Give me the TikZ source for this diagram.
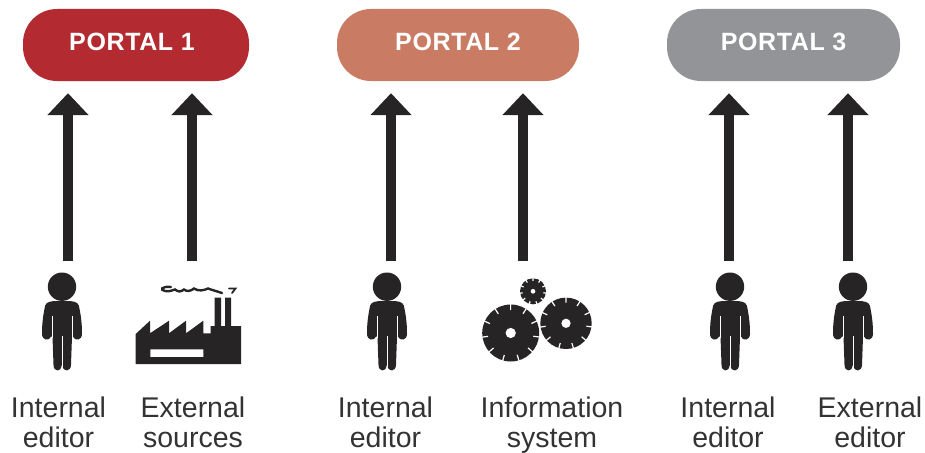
\documentclass[tikz,border=0pt]{standalone}
\usepackage{fontspec}
\setmainfont{Liberation Sans}
\newfontfamily\portalfont[LetterSpace=2.5]{Liberation Sans}
\usetikzlibrary{arrows.meta}
\definecolor{ink}{HTML}{262425}
\definecolor{labelc}{HTML}{333333}
\definecolor{pa}{HTML}{B32A30}
\definecolor{pb}{HTML}{C97B63}
\definecolor{pc}{HTML}{929497}
\tikzset{
  x=1pt,y=-1pt,
  portal/.style={rounded corners=34pt,minimum height=72pt,inner sep=0pt,text=white,
    text height=18pt,text depth=6pt,
    font=\fontsize{25}{28}\portalfont\bfseries},
  flow/.style={draw=ink,line width=9.5pt,-{Triangle[width=40pt,length=22pt,fill=ink]},shorten >=12pt},
  lab/.style={align=center,text=labelc,inner sep=0pt,font=\fontsize{28.5}{30}\selectfont},
  person/.pic={
    \fill[ink] (0,0) circle[radius=14.2];
    \fill[ink] (-9,14.5) .. controls (-15,15) and (-17,17) .. (-17.5,22)
      .. controls (-19.5,32) and (-20,40) .. (-20,47)
      .. controls (-20,54) and (-13,54.5) .. (-11,50)
      -- (-9.5,50) -- (-8.5,78)
      .. controls (-8.5,85.5) and (-1,85.5) .. (-0.5,79)
      -- (0.5,79)
      .. controls (1,85.5) and (9,85.5) .. (9,78)
      -- (10,50) -- (11,50)
      .. controls (13,54.5) and (20,54) .. (20,47)
      .. controls (20,40) and (19.5,32) .. (17.5,22)
      .. controls (17,17) and (15,15) .. (9,14.5) -- cycle;
    \draw[white,line width=.5pt] (-9.5,29) -- (-9.5,51) (10,29) -- (10,51);
    \draw[white,line width=.8pt] (0,49) -- (0,80);
  },
  sawblade/.pic={
    \fill[ink] (0,0) circle[radius=\bladeR];
    \foreach \k in {1,...,11}{
      \draw[white,line width=1.2pt] ({\k*32.73+8}:\bladeR+1) -- ({\k*32.73+8}:0.8*\bladeR);
    }
    \fill[white] (0,0) circle[radius=0.18*\bladeR];
  }
}
\begin{document}
\begin{tikzpicture}
\useasboundingbox (0,0) rectangle (925,452);
% portals
\node[portal,fill=pa,minimum width=226pt] (p1) at (136,45) {\hspace*{-8pt}PORTAL 1};
\node[portal,fill=pb,minimum width=242pt] (p2) at (458,45) {PORTAL 2};
\node[portal,fill=pc,minimum width=233pt] (p3) at (783.5,45) {PORTAL 3};
% arrow starts
\coordinate (s1) at (68,261);
\coordinate (s2) at (192,261);
\coordinate (s3) at (391,261);
\coordinate (s4) at (523,261);
\coordinate (s5) at (729,261);
\coordinate (s6) at (848,261);
\draw[flow] (s1) -- (s1 |- p1.south);
\draw[flow] (s2) -- (s2 |- p1.south);
\draw[flow] (s3) -- (s3 |- p2.south);
\draw[flow] (s4) -- (s4 |- p2.south);
\draw[flow] (s5) -- (s5 |- p3.south);
\draw[flow] (s6) -- (s6 |- p3.south);
% people
\pic at (62,286.7) {person};
\pic at (387,286.7) {person};
\pic at (730,286.7) {person};
\pic at (853,286.7) {person};
% factory
\fill[ink,even odd rule] (135.7,364) -- (135.7,334) -- (150,320.7) -- (150,333.3) -- (169,320.7) -- (169,333.3)
  -- (186,320.7) -- (186,333.3) -- (203.3,320.7) -- (203.3,333.3) -- (210.7,333.3) -- (210.7,326)
  -- (214.7,326) -- (214.7,297.7) -- (221,297.7) -- (221,326) -- (225,326) -- (225,297.7)
  -- (231,297.7) -- (231,326) -- (241,326) -- (241,364) -- cycle
  (150.3,349.3) rectangle (203.3,357);
\draw[ink,line width=2.4pt,line cap=round] (171,287) .. controls (161,286) and (160,290) .. (165,291)
  .. controls (170,292) and (172,290) .. (175,289.5) .. controls (178,292) and (181,292) .. (184,289.5)
  .. controls (187,292) and (191,291) .. (194,288.5) .. controls (198,291.5) and (204,290.5) .. (208,288.5)
  .. controls (212,290) and (216,291) .. (222,293);
\draw[ink,line width=1.8pt,line cap=round] (229,288.5) -- (235.5,288.5) -- (232,293);
% saw blades
\def\bladeR{28.5}\pic at (510.7,333) {sawblade};
\def\bladeR{25.7}\pic at (566,323.3) {sawblade};
\def\bladeR{13}\pic at (533,291.3) {sawblade};
% labels
\node[lab] (l1) at (58.5,426) {\strut Internal\\\strut editor};
\node[lab] (l2) at (193,426) {\strut External\\\strut sources};
\node[lab] (l3) at (385.5,426) {\strut Internal\\\strut editor};
\node[lab] (l4) at (552,426) {\strut Information\\\strut system};
\node[lab] (l5) at (728,426) {\strut Internal\\\strut editor};
\node[lab] (l6) at (870,426) {\strut External\\\strut editor};
\end{tikzpicture}
\end{document}
